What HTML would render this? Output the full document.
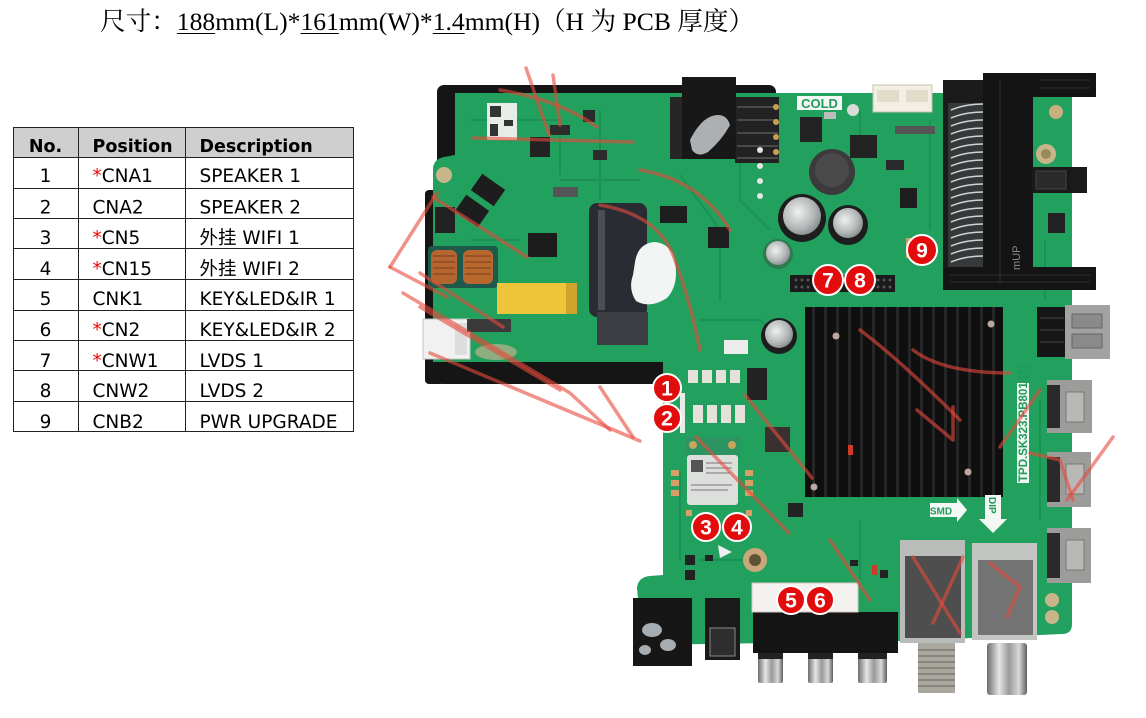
<!DOCTYPE html>
<html><head><meta charset="utf-8">
<style>
html,body{margin:0;padding:0;background:#fff;width:1146px;height:718px;overflow:hidden;position:relative}
svg{position:absolute;left:0;top:0}
.title{position:absolute;left:100px;top:9px;font-family:"Liberation Serif","Noto Serif CJK SC",serif;font-size:25.6px;line-height:25px;white-space:nowrap;color:#000}
.title u{text-decoration:underline;text-underline-offset:3px;text-decoration-thickness:1px}
</style></head><body>
<svg width="1146" height="718" viewBox="0 0 1146 718">
<defs>
<linearGradient id="silver" x1="0" x2="1" y1="0" y2="0">
<stop offset="0" stop-color="#6d6d6d"/><stop offset="0.3" stop-color="#e6e6e6"/><stop offset="0.55" stop-color="#9a9a9a"/><stop offset="0.8" stop-color="#d8d8d8"/><stop offset="1" stop-color="#5e5e5e"/>
</linearGradient>
<radialGradient id="capTop" cx="0.4" cy="0.4" r="0.7">
<stop offset="0" stop-color="#f0f0f0"/><stop offset="0.6" stop-color="#b4b8b8"/><stop offset="1" stop-color="#7b8080"/>
</radialGradient>
</defs>

<!-- TABLE -->
<rect x="13.5" y="127.5" width="340" height="30" fill="#cfcfcf"/>
<path d="M13.5 127.5H353.5V431.5H13.5Z M13 157.5H354 M13 188.5H354 M13 218.5H354 M13 248.5H354 M13 279.5H354 M13 310.5H354 M13 340.5H354 M13 370.5H354 M13 401.5H354 M78.5 127V431 M185.5 127V431" stroke="#222" stroke-width="1" fill="none"/>
<g font-family="'DejaVu Sans','Noto Sans CJK SC',sans-serif" fill="#000">
<g font-weight="bold" font-size="17.5">
<text x="45.5" y="152" text-anchor="middle">No.</text>
<text x="92.5" y="152">Position</text>
<text x="199.5" y="152">Description</text>
</g>
<g font-size="18.5">
<text x="45.5" y="182" text-anchor="middle">1</text><text x="92.5" y="182"><tspan fill="#e00">*</tspan>CNA1</text><text x="199.5" y="182">SPEAKER 1</text>
<text x="45.5" y="213.5" text-anchor="middle">2</text><text x="92.5" y="213.5">CNA2</text><text x="199.5" y="213.5">SPEAKER 2</text>
<text x="45.5" y="244" text-anchor="middle">3</text><text x="92.5" y="244"><tspan fill="#e00">*</tspan>CN5</text><text x="199.5" y="244">外挂 WIFI 1</text>
<text x="45.5" y="275" text-anchor="middle">4</text><text x="92.5" y="275"><tspan fill="#e00">*</tspan>CN15</text><text x="199.5" y="275">外挂 WIFI 2</text>
<text x="45.5" y="305" text-anchor="middle">5</text><text x="92.5" y="305">CNK1</text><text x="199.5" y="305">KEY&amp;LED&amp;IR 1</text>
<text x="45.5" y="336" text-anchor="middle">6</text><text x="92.5" y="336"><tspan fill="#e00">*</tspan>CN2</text><text x="199.5" y="336">KEY&amp;LED&amp;IR 2</text>
<text x="45.5" y="367" text-anchor="middle">7</text><text x="92.5" y="367"><tspan fill="#e00">*</tspan>CNW1</text><text x="199.5" y="367">LVDS 1</text>
<text x="45.5" y="397" text-anchor="middle">8</text><text x="92.5" y="397">CNW2</text><text x="199.5" y="397">LVDS 2</text>
<text x="45.5" y="428" text-anchor="middle">9</text><text x="92.5" y="428">CNB2</text><text x="199.5" y="428">PWR UPGRADE</text>
</g>
</g>

<!-- PCB: black shield -->
<rect x="437" y="85" width="339" height="299" rx="7" fill="#151515"/>
<rect x="425" y="190" width="20" height="194" rx="4" fill="#151515"/>
<!-- board -->
<path d="M455,93 L1072,93 L1072,624 Q1072,634 1062,634 L905,641 L642,645 L637,588 Q638,577 650,576 L663,575 L663,362 L433,362 L433,168 Q434,159 444,157 L455,155 Z" fill="#22a05e"/>
<g stroke="#1c8d52" stroke-width="2" fill="none" opacity="0.8">
<path d="M470,120 H560 V175 M600,110 V200 M680,175 L720,230 V300 M740,110 V200 L770,230 M700,320 H760 L790,350 M470,240 H520 M560,180 H640 M860,110 V150 M930,120 V230 M1045,240 V300 M680,470 V560 M700,560 H760 M860,520 V580 M1040,400 V520"/>
</g>

<!-- power section parts -->
<rect x="487" y="103" width="30" height="37" fill="#e6ece6"/>
<g fill="#333"><rect x="490" y="106" width="11" height="11"/><rect x="504" y="120" width="9" height="6"/><rect x="490" y="124" width="8" height="12"/></g>
<rect x="530" y="137" width="20" height="20" fill="#222"/>
<rect x="583" y="110" width="12" height="12" fill="#2a2a2a"/>
<rect x="550" y="125" width="20" height="10" fill="#2c2c2c"/>
<rect x="593" y="150" width="14" height="10" fill="#2c2c2c"/>
<g transform="translate(488,190) rotate(35)"><rect x="-14" y="-10" width="28" height="20" fill="#1d1d1d"/></g>
<g transform="translate(472,211) rotate(35)"><rect x="-14" y="-10" width="28" height="20" fill="#1d1d1d"/></g>
<circle cx="444" cy="175" r="8" fill="#c9b58a"/>
<rect x="435" y="207" width="20" height="26" fill="#222"/>
<rect x="528" y="233" width="29" height="24" fill="#1c1c1c"/>
<rect x="553" y="187" width="25" height="10" fill="#555"/>
<rect x="428" y="246" width="70" height="42" rx="4" fill="#1e5a4c"/>
<rect x="431" y="250" width="26" height="34" rx="6" fill="#b5652f"/>
<rect x="463" y="250" width="30" height="34" rx="6" fill="#b8682f"/>
<g stroke="#7a3d1a" stroke-width="1"><path d="M433 256H455M433 262H455M433 268H455M433 274H455M465 256H491M465 262H491M465 268H491M465 274H491"/></g>
<rect x="497" y="283" width="80" height="31" fill="#ecc53a"/>
<rect x="566" y="283" width="11" height="31" fill="#cfa42a"/>
<rect x="589" y="203" width="58" height="114" rx="8" fill="#292c32"/>
<rect x="598" y="210" width="7" height="100" fill="#4a4e56"/>
<rect x="597" y="312" width="51" height="33" fill="#3b3d42"/>
<path d="M635,262 Q638,243 655,242 Q672,244 675,262 Q679,285 667,298 Q650,309 636,301 Q628,289 633,275 Z" fill="#f3f5f5"/>
<rect x="423" y="319" width="47" height="40" fill="#f1f1f1" stroke="#c4c4c4"/>
<rect x="455" y="323" width="12" height="32" fill="#ddd"/>
<rect x="467" y="319" width="44" height="13" fill="#3a3a3a"/>
<ellipse cx="496" cy="352" rx="21" ry="8" fill="#8fae80"/>
<rect x="735" y="97" width="44" height="66" fill="#222"/>
<g stroke="#4a4a4a" stroke-width="2"><path d="M737 107H778M737 120H778M737 133H778M737 146H778M737 158H778"/></g>
<g fill="#c8a050"><circle cx="776" cy="107" r="3"/><circle cx="776" cy="122" r="3"/><circle cx="776" cy="137" r="3"/><circle cx="776" cy="152" r="3"/></g>
<rect x="670" y="97" width="14" height="62" fill="#262626"/>
<rect x="682" y="77" width="54" height="82" fill="#181818"/>
<path d="M690,140 Q700,120 712,116 Q726,112 730,125 Q722,140 708,152 Q698,158 692,150 Z" fill="#dfe3e6" opacity="0.75"/>
<rect x="660" y="206" width="27" height="17" fill="#1e1e1e"/>
<rect x="708" y="227" width="21" height="21" fill="#1e1e1e"/>
<rect x="724" y="340" width="24" height="14" fill="#ececec"/>
<g fill="#e6e6e6"><circle cx="760" cy="150" r="3"/><circle cx="760" cy="166" r="3"/><circle cx="760" cy="181" r="3"/><circle cx="760" cy="196" r="3"/></g>

<!-- main board top parts -->
<rect x="797" y="96" width="45" height="14" fill="#f4f8f4"/>
<text x="819.5" y="108" text-anchor="middle" font-family="'Liberation Sans',sans-serif" font-weight="bold" font-size="13" fill="#1f9a5a">COLD</text>
<circle cx="853" cy="110" r="6" fill="#d7dcd6"/>
<rect x="873" y="85" width="59" height="27" fill="#f3efe4" stroke="#c8c2b0"/>
<g fill="#e2dccb"><rect x="877" y="90" width="22" height="12"/><rect x="906" y="90" width="22" height="12"/></g>
<rect x="800" y="117" width="22" height="25" fill="#232323"/>
<rect x="850" y="135" width="27" height="23" fill="#232323"/>
<rect x="824" y="112" width="12" height="7" fill="#bbb"/>
<circle cx="832" cy="172" r="23" fill="#3b3b3b"/>
<circle cx="832" cy="170" r="17" fill="#4a4a4a"/>
<rect x="895" y="126" width="40" height="8" fill="#555"/>
<rect x="886" y="160" width="18" height="10" fill="#2a2a2a"/>
<rect x="900" y="188" width="17" height="20" fill="#1e1e1e"/>
<circle cx="802" cy="218" r="24" fill="#1d1d1d"/>
<circle cx="802" cy="216" r="19" fill="url(#capTop)"/>
<circle cx="848" cy="225" r="20" fill="#1d1d1d"/>
<circle cx="848" cy="223" r="15" fill="url(#capTop)"/>
<circle cx="778" cy="254" r="15" fill="#2f7a4f"/>
<circle cx="778" cy="253" r="12" fill="url(#capTop)"/>
<circle cx="779" cy="336" r="18" fill="#1d1d1d"/>
<circle cx="779" cy="334" r="14" fill="url(#capTop)"/>
<rect x="790" y="275" width="105" height="17" fill="#1a1a1a"/>
<g fill="#555"><circle cx="796" cy="280" r="1.5"/><circle cx="802" cy="280" r="1.5"/><circle cx="808" cy="280" r="1.5"/><circle cx="814" cy="280" r="1.5"/><circle cx="878" cy="280" r="1.5"/><circle cx="884" cy="280" r="1.5"/><circle cx="890" cy="280" r="1.5"/><circle cx="796" cy="287" r="1.5"/><circle cx="802" cy="287" r="1.5"/><circle cx="808" cy="287" r="1.5"/><circle cx="878" cy="287" r="1.5"/><circle cx="884" cy="287" r="1.5"/><circle cx="890" cy="287" r="1.5"/></g>
<rect x="906" y="238" width="18" height="20" fill="#c9a46a"/>
<!-- card slot -->
<rect x="943" y="80" width="44" height="210" fill="#1b1b1b"/>
<rect x="948" y="103" width="36" height="164" fill="#36393a"/>
<g stroke="#cfd2d2" stroke-width="1.6" fill="none">
<path d="M951 110 Q965 104 984 104M951 118 Q965 112 984 112M951 126 Q965 120 984 120M951 134 Q965 128 984 128M951 142 Q965 136 984 136M951 150 Q965 144 984 144M951 158 Q965 152 984 152M951 166 Q965 160 984 160M951 174 Q965 168 984 168M951 182 Q965 176 984 176M951 190 Q965 184 984 184M951 198 Q965 192 984 192M951 206 Q965 200 984 200M951 214 Q965 208 984 208M951 222 Q965 216 984 216M951 230 Q965 224 984 224M951 238 Q965 232 984 232M951 246 Q965 240 984 240M951 254 Q965 248 984 248M951 262 Q965 256 984 256"/>
</g>
<rect x="983" y="73" width="50" height="217" fill="#141414"/>
<rect x="983" y="73" width="113" height="24" fill="#141414"/>
<rect x="943" y="267" width="153" height="23" fill="#141414"/>
<g stroke="#2e2e2e" stroke-width="1"><path d="M1000 80V284M1040 80H1090M1040 88H1090M950 275H1090M950 282H1090"/></g>
<text transform="translate(1020,270) rotate(-90)" font-family="'Liberation Sans',sans-serif" font-size="11" fill="#888">mUP</text>
<circle cx="1056" cy="112" r="7" fill="#c8b080"/>
<circle cx="1046" cy="154" r="10" fill="#c9b58a"/>
<circle cx="1046" cy="154" r="5" fill="#9a8a5a"/>
<rect x="1032" y="167" width="55" height="26" fill="#1a1a1a"/>
<rect x="1036" y="171" width="30" height="18" fill="#2a2a2a" stroke="#444"/>
<rect x="1048" y="213" width="17" height="20" fill="#222"/>
<!-- USB -->
<rect x="1037" y="307" width="30" height="50" fill="#161616"/>
<g stroke="#444"><path d="M1040 318H1064M1040 330H1064M1040 342H1064"/></g>
<rect x="1065" y="305" width="45" height="54" fill="#a2a3a1"/>
<rect x="1072" y="314" width="30" height="14" fill="#8a8b89" stroke="#666"/>
<rect x="1072" y="334" width="30" height="14" fill="#8a8b89" stroke="#666"/>
<!-- heatsink -->
<rect x="805" y="307" width="198" height="190" fill="#0f0f0f"/>
<g fill="#262626">
<rect x="812" y="307" width="3" height="190"/><rect x="824" y="307" width="3" height="190"/><rect x="836" y="307" width="3" height="190"/><rect x="848" y="307" width="3" height="190"/><rect x="860" y="307" width="3" height="190"/><rect x="872" y="307" width="3" height="190"/><rect x="884" y="307" width="3" height="190"/><rect x="896" y="307" width="3" height="190"/><rect x="908" y="307" width="3" height="190"/><rect x="920" y="307" width="3" height="190"/><rect x="932" y="307" width="3" height="190"/><rect x="944" y="307" width="3" height="190"/><rect x="956" y="307" width="3" height="190"/><rect x="968" y="307" width="3" height="190"/><rect x="980" y="307" width="3" height="190"/><rect x="992" y="307" width="3" height="190"/>
</g>
<g fill="#b8a8a0"><circle cx="836" cy="336" r="3.5"/><circle cx="991" cy="324" r="3.5"/><circle cx="968" cy="472" r="3.5"/><circle cx="814" cy="487" r="3.5"/></g>
<rect x="1017" y="383" width="12" height="100" fill="#f2f6f2"/>
<text transform="translate(1027,482) rotate(-90)" font-family="'Liberation Sans',sans-serif" font-weight="bold" font-size="11.5" fill="#1f9a5a">TPD.SK323.PB801 (T)</text>
<!-- HDMI -->
<g>
<rect x="1047" y="380" width="45" height="53" fill="#9c9d9b"/><rect x="1047" y="385" width="13" height="43" fill="#2a2a2a"/><rect x="1066" y="392" width="18" height="30" fill="#b8b9b7" stroke="#777"/>
<rect x="1047" y="452" width="44" height="55" fill="#9c9d9b"/><rect x="1047" y="457" width="13" height="45" fill="#2a2a2a"/><rect x="1066" y="464" width="18" height="30" fill="#b8b9b7" stroke="#777"/>
<rect x="1047" y="528" width="44" height="55" fill="#9c9d9b"/><rect x="1047" y="533" width="13" height="45" fill="#2a2a2a"/><rect x="1066" y="540" width="18" height="30" fill="#b8b9b7" stroke="#777"/>
</g>
<g fill="#c9b58a"><circle cx="1052" cy="600" r="7"/><circle cx="1052" cy="617" r="7"/></g>
<path d="M930,503 H957 V498 L967,510 L957,522 V517 H930 Z" fill="#f4f8f4"/>
<text x="941" y="514.5" text-anchor="middle" font-family="'Liberation Sans',sans-serif" font-weight="bold" font-size="10" fill="#1f9a5a">SMD</text>
<path d="M985,495 H1001 V519 H1007 L993,533 L979,519 H985 Z" fill="#f4f8f4"/>
<text transform="translate(989,497) rotate(90)" font-family="'Liberation Sans',sans-serif" font-weight="bold" font-size="10" fill="#1f9a5a">DIP</text>

<!-- lower-left board parts -->
<rect x="680" y="393" width="5" height="40" fill="#e8ece8"/>
<g fill="#e4e2da"><rect x="688" y="370" width="10" height="13"/><rect x="702" y="370" width="10" height="13"/><rect x="716" y="370" width="10" height="13"/><rect x="730" y="370" width="10" height="13"/><rect x="693" y="405" width="10" height="18"/><rect x="707" y="405" width="10" height="18"/><rect x="721" y="405" width="10" height="18"/><rect x="735" y="405" width="10" height="18"/></g>
<rect x="747" y="368" width="20" height="32" fill="#222"/>
<rect x="765" y="427" width="25" height="25" fill="#3a3030"/>
<rect x="788" y="503" width="15" height="14" fill="#222"/>
<rect x="685" y="437" width="55" height="18" fill="#2b9462"/>
<circle cx="693" cy="445" r="4" fill="#c9a45c"/><circle cx="732" cy="445" r="4" fill="#c9a45c"/>
<rect x="687" y="455" width="51" height="50" rx="3" fill="#dcdfdc"/>
<rect x="691" y="460" width="12" height="12" fill="#555"/>
<g stroke="#777" stroke-width="1"><path d="M706 463H732M706 468H732M706 473H730M691 485H732M691 490H728"/></g>
<g fill="#d8a066"><rect x="671" y="470" width="8" height="6"/><rect x="671" y="480" width="8" height="6"/><rect x="671" y="490" width="8" height="6"/><rect x="745" y="470" width="8" height="6"/><rect x="745" y="480" width="8" height="6"/><rect x="745" y="490" width="8" height="6"/><rect x="686" y="510" width="6" height="6"/><rect x="746" y="510" width="6" height="6"/></g>
<circle cx="755" cy="560" r="12" fill="#c9a77a"/>
<circle cx="755" cy="560" r="6" fill="#5e5236"/>
<path d="M718,545 L732,552 L720,558 Z" fill="#eee"/>
<g fill="#222"><rect x="685" y="555" width="10" height="10"/><rect x="685" y="570" width="10" height="10"/><rect x="705" y="555" width="8" height="6"/><rect x="850" y="560" width="8" height="6"/><rect x="880" y="570" width="8" height="8"/></g>
<g fill="#cc3a2a"><rect x="848" y="445" width="5" height="10"/><rect x="872" y="565" width="5" height="10"/></g>
<!-- tuners -->
<rect x="900" y="540" width="65" height="103" fill="#b9bcb9"/>
<rect x="905" y="556" width="56" height="82" fill="#4e4e4e"/>
<rect x="972" y="543" width="65" height="97" fill="#c2c5c2"/>
<rect x="978" y="560" width="55" height="75" fill="#737373"/>
<rect x="918" y="643" width="37" height="50" fill="#a9a79e"/>
<g stroke="#7c7a72" stroke-width="1.5"><path d="M918 650H955M918 656H955M918 662H955M918 668H955M918 674H955M918 680H955M918 686H955"/></g>
<rect x="987" y="643" width="40" height="52" rx="3" fill="url(#silver)"/>
<!-- RCA -->
<rect x="753" y="612" width="145" height="41" fill="#141414"/>
<rect x="758" y="653" width="25" height="30" rx="2" fill="url(#silver)"/>
<rect x="808" y="653" width="25" height="30" rx="2" fill="url(#silver)"/>
<rect x="858" y="653" width="29" height="30" rx="2" fill="url(#silver)"/>
<g fill="#222"><rect x="758" y="653" width="25" height="6"/><rect x="808" y="653" width="25" height="6"/><rect x="858" y="653" width="29" height="6"/></g>
<rect x="752" y="583" width="106" height="29" fill="#f4f2ee" stroke="#cfcac0"/>
<rect x="633" y="598" width="59" height="68" fill="#161616"/>
<g fill="#c9d2da" opacity="0.8"><ellipse cx="652" cy="630" rx="10" ry="7"/><ellipse cx="668" cy="645" rx="8" ry="6"/><ellipse cx="645" cy="650" rx="6" ry="5"/></g>
<rect x="705" y="598" width="35" height="62" fill="#1a1a1a"/>
<rect x="710" y="628" width="25" height="28" fill="#2e2e2e" stroke="#888"/>

<!-- watermark strokes -->
<g stroke="#e84a3c" stroke-opacity="0.6" stroke-width="3.5" fill="none" stroke-linecap="round" stroke-linejoin="round">
<path d="M390,267 L437,193"/>
<path d="M390,267 L447,297"/>
<path d="M433,197 L527,257"/>
<path d="M403,293 L570,393 L610,430"/>
<path d="M600,387 L633,437"/>
<path d="M526,68 L549,135"/>
<path d="M553,75 L560,125"/>
<path d="M500,90 Q560,100 597,127"/>
<path d="M473,138 L633,142"/>
<path d="M420,273 L503,327"/>
<path d="M420,307 L560,390"/>
<path d="M430,353 L640,441"/>
<path d="M600,205 Q660,215 675,260 Q690,300 700,350"/>
<path d="M640,170 Q700,180 730,230"/>
<path d="M745,395 L812,478"/>
<path d="M696,437 L789,533"/>
<path d="M913,350 Q943,373 1010,373"/>
<path d="M917,410 L953,440 L953,407"/>
<path d="M1030,453 L1060,460 L1073,500"/>
<path d="M1113,437 L1087,473 L1067,500"/>
<path d="M1040,390 L1000,447"/>
<path d="M913,557 L960,633"/>
<path d="M963,557 L933,623"/>
<path d="M990,563 L1020,587 L1007,617"/>
<path d="M860,330 Q900,360 960,420"/>
<path d="M830,540 L870,600"/>
</g>

<!-- numbered markers -->
<g stroke="#fff" stroke-width="2" fill="#e30c0c">
<circle cx="667" cy="388" r="14"/><circle cx="667" cy="418" r="14"/>
<circle cx="706" cy="527" r="14"/><circle cx="737" cy="527" r="14"/>
<circle cx="791" cy="600" r="14"/><circle cx="820" cy="600" r="14"/>
<circle cx="828" cy="280" r="15"/><circle cx="860" cy="280" r="15"/>
<circle cx="922" cy="250" r="15"/>
</g>
<g font-family="'Liberation Sans',sans-serif" font-weight="bold" font-size="21" fill="#fff" text-anchor="middle">
<text x="667" y="395.5">1</text><text x="667" y="425.5">2</text>
<text x="706" y="534.5">3</text><text x="737" y="534.5">4</text>
<text x="791" y="607.5">5</text><text x="820" y="607.5">6</text>
<text x="828" y="287.5">7</text><text x="860" y="287.5">8</text>
<text x="922" y="257.5">9</text>
</g>
</svg>
<div class="title">尺寸：<u>188</u>mm(L)*<u>161</u>mm(W)*<u>1.4</u>mm(H)（H 为 PCB 厚度）</div>
</body></html>
